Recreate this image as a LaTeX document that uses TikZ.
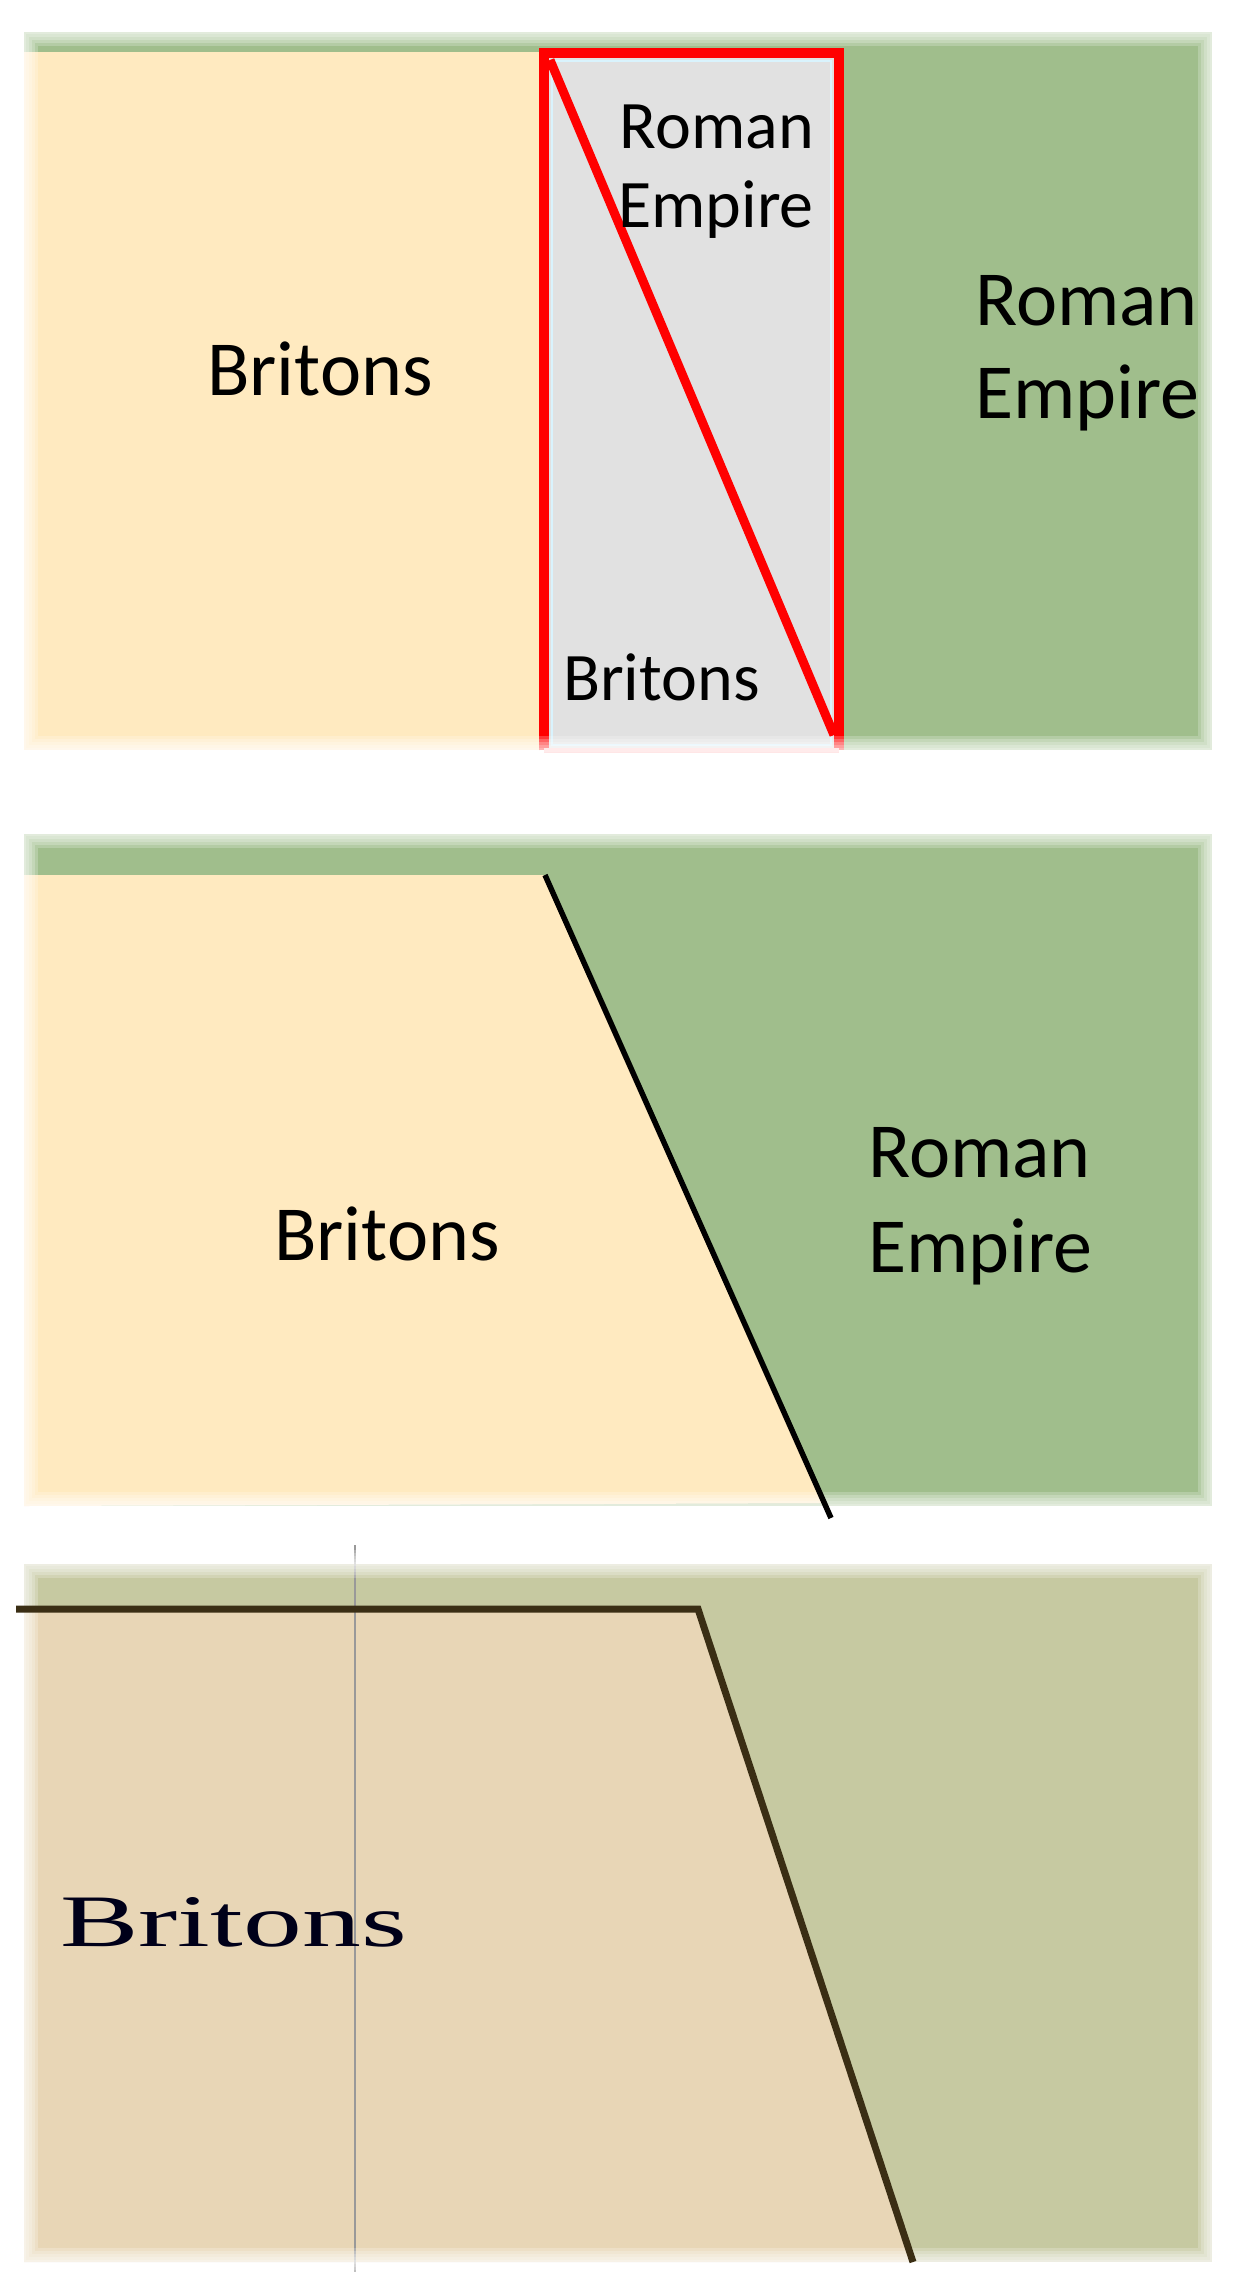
\documentclass[tikz,border=0pt]{standalone}
\usepackage{fontspec}
\usetikzlibrary{calc}
\setmainfont{Carlito}
\newfontfamily\oldserif{Liberation Serif}
\definecolor{beige}{HTML}{FFEAC0}
\definecolor{rgreen}{HTML}{A0BE8C}
\definecolor{boxgrey}{HTML}{E1E1E1}
\definecolor{oldbeige}{HTML}{E8D6B6}
\definecolor{oldgreen}{HTML}{C6C9A1}
\definecolor{oldline}{HTML}{3A2E14}
\definecolor{redline}{HTML}{FF0000}
\tikzset{
  bigtext/.style={inner sep=0pt, font=\fontsize{78}{93}\selectfont},
  boxtext/.style={inner sep=0pt, font=\fontsize{68}{79}\selectfont},
  softedge/.style={draw=white, opacity=0.22},
}
\begin{document}
\begin{tikzpicture}[x=1pt,y=-1pt]
\useasboundingbox[fill=white] (0,0) rectangle (1246,2286);

% ---------- Panel 1 ----------
\fill[rgreen] (24,32) rectangle (1212,750);
\fill[beige] (24,52) rectangle (544,750);
\fill[boxgrey] (544,53) rectangle (839,750);
\draw[white!85!cyan, line width=2] (552,61) rectangle (831,745);
\coordinate (bTL) at (544,53);
\coordinate (bTR) at (839,53);
\coordinate (bBR) at (839,750);
\coordinate (bBL) at (544,750);
\draw[redline, line width=10, line join=miter] (bBL) -- (bTL) -- (bTR) -- (bBR);
\draw[red!25, line width=5] (bBL) -- (bBR);
\coordinate (dA) at (550,60);
\coordinate (dB) at (834,735);
\draw[redline, line width=9] (dA) -- (dB);
\foreach \w in {4,10,16,22,28} {
  \draw[softedge, line width=\w] (24,32) rectangle (1212,750);
}
\node[bigtext, anchor=base] (brit1) at (320,395) {Britons};
\node[boxtext, anchor=base east] (boxrom) at (814,148) {Roman};
\node[boxtext, anchor=base east] (boxemp) at (814,227) {Empire};
\node[boxtext, anchor=base west] (boxbrit) at (563,700) {Britons};
\node[bigtext, anchor=base west] (rom1) at (975,325) {Roman};
\node[bigtext, anchor=base west] (emp1) at (975,418) {Empire};

% ---------- Panel 2 ----------
\fill[rgreen] (24,834) rectangle (1212,1506);
\coordinate (p2a) at (545,875);
\coordinate (p2b) at (831,1518);
\fill[beige] (24,875) -- (p2a) -- ($(p2a)!0.977!(p2b)$) -- (24,1506) -- cycle;
\foreach \w in {4,10,16,22,28} {
  \draw[softedge, line width=\w] (24,834) rectangle (1212,1506);
}
\draw[black, line width=5.5] (p2a) -- (p2b);
\node[bigtext, anchor=base] (brit2) at (387,1260) {Britons};
\node[bigtext, anchor=base west] (rom2) at (868,1177) {Roman};
\node[bigtext, anchor=base west] (emp2) at (868,1272) {Empire};

% ---------- Panel 3 ----------
\fill[oldgreen] (24,1564) rectangle (1212,2262);
\coordinate (p3s) at (16,1609);
\coordinate (p3c) at (698,1609);
\coordinate (p3e) at (913,2262);
\fill[oldbeige] (24,1609) -- (p3c) -- (p3e) -- (24,2262) -- cycle;
\draw[black!40, line width=1.5] (355,1545) -- (355,2272);
\foreach \w in {4,10,16,22,28} {
  \draw[softedge, line width=\w] (24,1564) rectangle (1212,2262);
}
\draw[oldline, line width=7, line join=miter] (p3s) -- (p3c) -- (p3e);
\node[inner sep=0pt, anchor=base west, xscale=1.59, transform shape,
      font=\oldserif\fontsize{74}{80}\selectfont, text=black!90!blue] (brit3) at (60,1946) {Britons};
\end{tikzpicture}
\end{document}
